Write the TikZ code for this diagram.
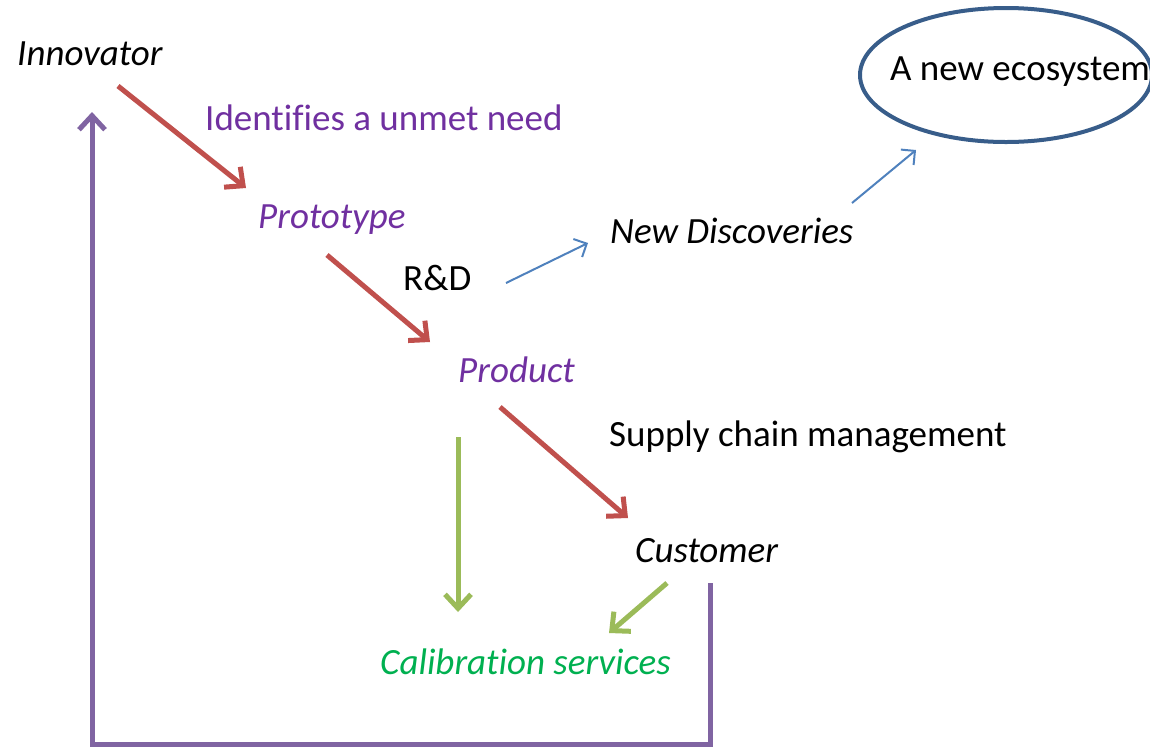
\documentclass[tikz,border=0pt]{standalone}
\usepackage{fontspec}
\setmainfont{Carlito}[Ligatures=NoCommon]
\usetikzlibrary{arrows.meta,shapes.geometric}
\definecolor{cred}{HTML}{C0504D}
\definecolor{cblue}{HTML}{4F81BD}
\definecolor{cdblue}{HTML}{385D8A}
\definecolor{cgreen}{HTML}{9BBB59}
\definecolor{cpurple}{HTML}{8064A2}
\definecolor{tpurple}{HTML}{7030A0}
\definecolor{tgreen}{HTML}{00B050}
\tikzset{
  lbl/.style={anchor=west,inner sep=0pt,font=\fontsize{37}{44}\selectfont},
  ilbl/.style={lbl,font=\fontsize{37}{44}\selectfont\itshape},
  thick arrow/.style={line width=5pt,-{Straight Barb[length=14pt,width=26pt,line width=5pt]}},
  thin arrow/.style={line width=2pt,-{Straight Barb[length=10pt,width=20pt,line width=2pt]}},
}
\begin{document}
\begin{tikzpicture}[x=1pt,y=-1pt]
\useasboundingbox (0,0) rectangle (1150,748);
\node[ilbl] (inn) at (17,54) {Innovator};
\node[lbl,text=tpurple] (need) at (205,118) {Identifies a unmet need};
\node[ilbl,text=tpurple] (proto) at (258,220) {Prototype};
\node[lbl] (rd) at (403,278) {R\&D};
\node[ilbl] (disc) at (610,231) {New Discoveries};
\node[draw=cdblue,line width=4pt,ellipse,minimum width=292pt,minimum height=134pt,inner sep=0pt] (eco) at (1006,75) {};
\node[lbl] (ecot) at (890,72) {A new ecosystem};
\node[ilbl,text=tpurple] (prod) at (458,370) {Product};
\node[lbl] (scm) at (609,437) {Supply chain management};
\node[ilbl] (cust) at (635,551) {Customer};
\node[ilbl,text=tgreen] (cal) at (380,662) {Calibration services};

\coordinate (a1s) at (118,86);  \coordinate (a1e) at (246,188);
\coordinate (a2s) at (327,255); \coordinate (a2e) at (430,342);
\coordinate (a3s) at (500,407); \coordinate (a3e) at (628,518);
\coordinate (b1s) at (506,283); \coordinate (b1e) at (588,243);
\coordinate (b2s) at (852,203); \coordinate (b2e) at (916,150);
\coordinate (g1s) at (458,437); \coordinate (g1e) at (458,612);
\coordinate (g2s) at (667,583); \coordinate (g2e) at (609,633);
\coordinate (ps) at (710,583);  \coordinate (pc1) at (710,744);
\coordinate (pc2) at (92,744);  \coordinate (pe) at (92,112);

\draw[thick arrow,cred] (a1s) -- (a1e);
\draw[thick arrow,cred] (a2s) -- (a2e);
\draw[thick arrow,cred] (a3s) -- (a3e);
\draw[thin arrow,cblue] (b1s) -- (b1e);
\draw[thin arrow,cblue] (b2s) -- (b2e);
\draw[thick arrow,cgreen] (g1s) -- (g1e);
\draw[thick arrow,cgreen] (g2s) -- (g2e);
\draw[thick arrow,cpurple] (ps) -- (pc1) -- (pc2) -- (pe);
\end{tikzpicture}
\end{document}
